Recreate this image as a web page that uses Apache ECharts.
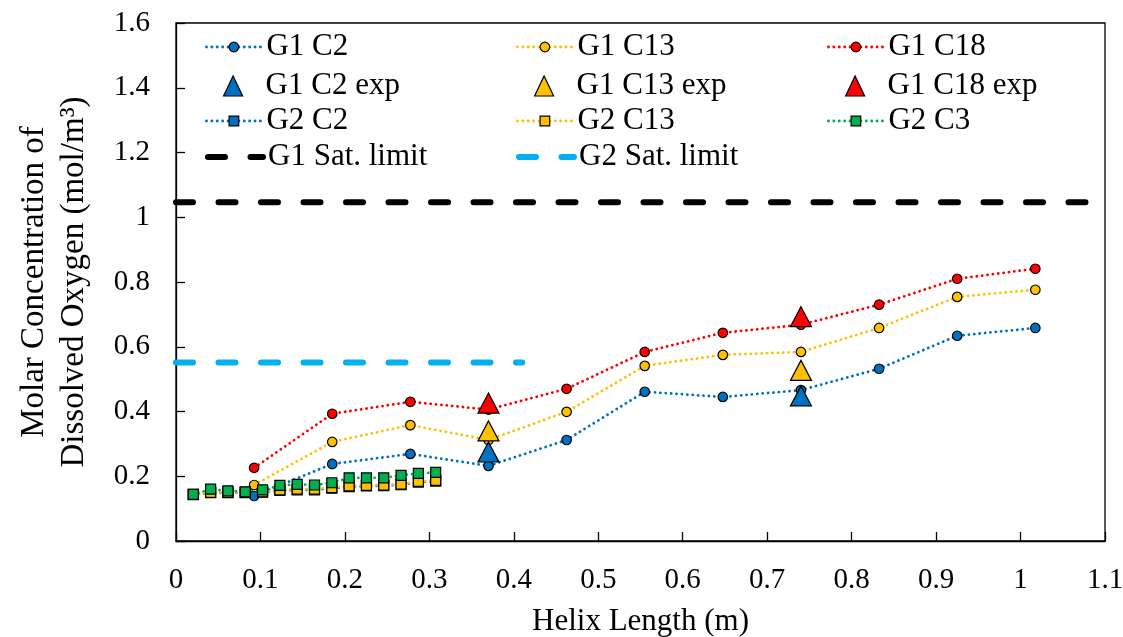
<!DOCTYPE html>
<html><head><meta charset="utf-8">
<script src="https://cdn.jsdelivr.net/npm/echarts@6/dist/echarts.min.js"></script>
<style>html,body{margin:0;padding:0;background:#fff}#c{width:1123px;height:637px}</style>
</head><body><div id="c"></div>
<script>
// ---- data ----
const g1X   = [0.0925, 0.185, 0.2775, 0.37, 0.4625, 0.555, 0.6475, 0.74, 0.8325, 0.925, 1.0175];
const g1C2  = [0.139, 0.238, 0.269, 0.232, 0.312, 0.461, 0.445, 0.466, 0.532, 0.634, 0.658];
const g1C13 = [0.173, 0.306, 0.358, 0.312, 0.399, 0.541, 0.575, 0.584, 0.658, 0.754, 0.776];
const g1C18 = [0.226, 0.393, 0.430, 0.406, 0.470, 0.584, 0.643, 0.668, 0.730, 0.810, 0.841];
const expX     = [0.37, 0.74];
const g1C2Exp  = [0.275, 0.448];
const g1C13Exp = [0.340, 0.527];
const g1C18Exp = [0.426, 0.693];
const g2X   = [0.0205, 0.041, 0.0615, 0.082, 0.1025, 0.123, 0.1435, 0.164, 0.1845, 0.205, 0.2255, 0.246, 0.2665, 0.287, 0.3075];
const g2C2  = [0.143, 0.149, 0.149, 0.149, 0.151, 0.156, 0.158, 0.158, 0.163, 0.168, 0.170, 0.171, 0.174, 0.182, 0.185];
const g2C13 = [0.144, 0.150, 0.150, 0.150, 0.152, 0.158, 0.160, 0.160, 0.165, 0.170, 0.172, 0.173, 0.176, 0.184, 0.187];
const g2C3  = [0.144, 0.160, 0.155, 0.152, 0.158, 0.172, 0.175, 0.173, 0.180, 0.195, 0.195, 0.195, 0.203, 0.209, 0.212];
const satG1X = [0, 1.1];   const satG1 = [1.046, 1.046];
const satG2X = [0, 0.41];  const satG2 = [0.551, 0.551];
const legendRows = [
  ['G1 C2', 'G1 C13', 'G1 C18'],
  ['G1 C2 exp', 'G1 C13 exp', 'G1 C18 exp'],
  ['G2 C2', 'G2 C13', 'G2 C3'],
  ['G1 Sat. limit', 'G2 Sat. limit']
];

// ---- style ----
const FONT = 'Liberation Serif';
const BLUE = '#0070C0', YEL = '#FFC000', RED = '#FF0000', GRN = '#00B050', CYAN = '#00B0F0';
const zip = (xs, ys) => xs.map((x, i) => [x, ys[i]]);
const dotLine = c => ({color: c, width: 2.8, type: [0.1, 5.3], cap: 'round'});
const dashLine = c => ({color: c, width: 6, type: [17, 25.5], cap: 'round'});
const mk = c => ({color: c, borderColor: '#000', borderWidth: 1.2, opacity: 1});

function lineSeries(name, xs, ys, c, sym, size) {
  return {name, type: 'line', data: zip(xs, ys), symbol: sym, symbolSize: size, showAllSymbol: true,
    lineStyle: dotLine(c), itemStyle: mk(c), emphasis: {disabled: true}, animation: false, z: 2};
}
function triSeries(name, ys, c) {
  return {name, type: 'scatter', data: zip(expX, ys), symbol: 'triangle', symbolSize: [21, 20],
    itemStyle: mk(c), emphasis: {disabled: true}, animation: false, z: 4};
}
function satSeries(name, xs, ys, c) {
  return {name, type: 'line', data: zip(xs, ys), symbol: 'none', lineStyle: dashLine(c),
    itemStyle: {color: c}, emphasis: {disabled: true}, animation: false, z: 1};
}

const series = [
  satSeries('G1 Sat. limit', satG1X, satG1, '#000'),
  satSeries('G2 Sat. limit', satG2X, satG2, CYAN),
  lineSeries('G1 C2', g1X, g1C2, BLUE, 'circle', 9.5),
  lineSeries('G1 C13', g1X, g1C13, YEL, 'circle', 9.5),
  lineSeries('G1 C18', g1X, g1C18, RED, 'circle', 9.5),
  triSeries('G1 C2 exp', g1C2Exp, BLUE),
  triSeries('G1 C13 exp', g1C13Exp, YEL),
  triSeries('G1 C18 exp', g1C18Exp, RED),
  lineSeries('G2 C2', g2X, g2C2, BLUE, 'rect', 10),
  lineSeries('G2 C13', g2X, g2C13, YEL, 'rect', 10),
  lineSeries('G2 C3', g2X, g2C3, GRN, 'rect', 10)
];
const seriesByName = {};
series.forEach(s => seriesByName[s.name] = s);

const colX = [205, 516, 827];
const rowY = [47, 86, 121, 157];
const ICON_W = 55;
const legends = [];
legendRows.forEach((row, r) => {
  row.forEach((name, c) => {
    const s = seriesByName[name];
    const isTri = s.type === 'scatter';
    const isSat = s.symbol === 'none';
    const triW = 19;
    const lg = {
      data: [name], left: isTri ? colX[c] + (ICON_W - triW) / 2 : colX[c], top: rowY[r] - 18, padding: 0, selectedMode: false,
      itemWidth: isTri ? triW : ICON_W, itemHeight: isTri ? 20 : 12,
      textStyle: {fontFamily: FONT, fontSize: 31, color: '#000', lineHeight: 36,
        padding: isTri ? [0, 0, 0, (ICON_W - triW) / 2] : 0},
      itemStyle: isSat ? {opacity: 0, borderWidth: 0} : {color: s.itemStyle.color, borderColor: '#000', borderWidth: 1.2, opacity: 1}
    };
    if (!isTri) lg.lineStyle = Object.assign({}, s.lineStyle);
    legends.push(lg);
  });
});

const axisCommon = {
  axisLine: {show: true, lineStyle: {color: '#000', width: 1.3}},
  axisTick: {show: true, inside: true, length: 9, lineStyle: {color: '#000', width: 1.3}},
  splitLine: {show: false},
  nameLocation: 'middle'
};

const option = {
  backgroundColor: '#fff',
  animation: false,
  grid: {left: 176, right: 18, top: 23, bottom: 96, show: true, borderColor: '#000', borderWidth: 1.3,
    backgroundColor: 'transparent', containLabel: false, outerBoundsMode: 'none'},
  legend: legends,
  xAxis: Object.assign({}, axisCommon, {
    type: 'value', min: 0, max: 1.1, interval: 0.1,
    axisLabel: {color: '#000', fontFamily: FONT, fontSize: 29, margin: 25},
    name: 'Helix Length (m)', nameGap: 65,
    nameTextStyle: {color: '#000', fontFamily: FONT, fontSize: 31}
  }),
  yAxis: Object.assign({}, axisCommon, {
    type: 'value', min: 0, max: 1.6, interval: 0.2,
    axisLabel: {color: '#000', fontFamily: FONT, fontSize: 29, margin: 26},
    name: 'Molar Concentration of\nDissolved Oxygen (mol/m³)', nameGap: 82,
    nameTextStyle: {color: '#000', fontFamily: FONT, fontSize: 33, lineHeight: 40}
  }),
  series
};
const chart = echarts.init(document.getElementById('c'), null, {renderer: 'canvas'});
chart.setOption(option);
</script>
</body></html>
